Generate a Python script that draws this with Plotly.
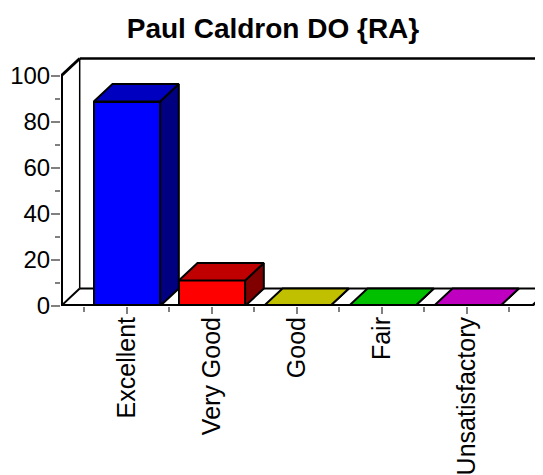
import plotly.graph_objects as go

# ---- data ----
categories = ["Excellent", "Very Good", "Good", "Fair", "Unsatisfactory"]
values = [88.89, 11.11, 0, 0, 0]
front_colors = ["#0000FF", "#FF0000", "#FFFF00", "#00FF00", "#FF00FF"]
top_colors = ["#0000C0", "#C00000", "#C0C000", "#00C000", "#C000C0"]
side_colors = ["#000080", "#800000", "#808000", "#008000", "#800080"]
y_ticks = [0, 20, 40, 60, 80, 100]
y_minor = [10, 30, 50, 70, 90]
title = "Paul Caldron DO {RA}"

# ---- geometry (data units) ----
OFF = 8          # page body margin
PX_X = 85.0      # pixels per category
PX_Y = 2.3       # pixels per value unit
bar_w = 0.78
dx = 18.7 / PX_X   # depth offset in x
dy = 17.5 / PX_Y   # depth offset in y
x0, x1 = -0.776, 4.765
W, H = 543 - OFF, 475 - OFF
ML = 61 - OFF
MB = H - (306 - OFF)
xmax = x0 + (W - ML) / PX_X
ytop = (306 - OFF) / PX_Y
ymax = 100

FONT = "Arial, Liberation Sans, sans-serif"
idx = list(range(len(categories)))

fig = go.Figure()

# front faces
fig.add_trace(go.Bar(
    x=idx, y=values, width=bar_w,
    marker=dict(color=front_colors, line=dict(color="black", width=2)),
    hoverinfo="skip", showlegend=False,
))

# top and side faces
for i, v in enumerate(values):
    l, r = i - bar_w / 2, i + bar_w / 2
    fig.add_trace(go.Scatter(
        x=[r, r, r + dx, r + dx, r], y=[0, v, v + dy, dy, 0],
        mode="lines", fill="toself", fillcolor=side_colors[i],
        line=dict(color="black", width=2), hoverinfo="skip", showlegend=False))
    fig.add_trace(go.Scatter(
        x=[l, r, r + dx, l + dx, l], y=[v, v, v + dy, v + dy, v],
        mode="lines", fill="toself", fillcolor=top_colors[i],
        line=dict(color="black", width=2), hoverinfo="skip", showlegend=False))

def seg(xa, ya, xb, yb, w, layer="below"):
    fig.add_shape(type="line", xref="x", yref="y", x0=xa, y0=ya, x1=xb, y1=yb,
                  line=dict(color="black", width=w), layer=layer)

# walls and floor
seg(x0 + dx, dy, x0 + dx, ymax + dy, 1.5)
seg(x0, ymax, x0 + dx, ymax + dy, 3)
seg(x0 + dx, ymax + dy, x1 + dx + 1, ymax + dy, 2.5)
seg(x0, 0, x0 + dx, dy, 2)
seg(x0 + dx, dy, x1 + dx, dy, 2)
seg(x1, 0, x1 + dx, dy, 2.5)
seg(x0, 0, x1, 0, 4, "above")
seg(x0, 0, x0, ymax, 4, "above")

fig.update_layout(
    template="none",
    width=W, height=H,
    margin=dict(l=ML, r=0, t=0, b=MB, pad=0),
    paper_bgcolor="white", plot_bgcolor="white",
    bargap=0,
    title=dict(text="<b>" + title + "</b>", x=(273 - OFF) / W, xref="container", xanchor="center",
               y=1 - (28 - OFF) / H, yref="container", yanchor="middle",
               font=dict(family=FONT, size=28, color="black")),
    xaxis=dict(range=[x0, xmax], tickmode="array", tickvals=idx, ticktext=categories,
               tickangle=-90, ticks="outside", ticklen=7, tickwidth=1.5, tickcolor="#808080",
               ticklabelstandoff=-7,
               minor=dict(tickmode="array", tickvals=[i - 0.5 for i in idx] + [len(idx) - 0.5],
                          ticks="outside", ticklen=5, tickwidth=1.5, tickcolor="#808080"),
               showline=False, showgrid=False, zeroline=False, automargin=False,
               tickfont=dict(family=FONT, size=25, color="black")),
    yaxis=dict(range=[0, ytop], tickmode="array", tickvals=y_ticks,
               ticks="outside", ticklen=9, tickwidth=1.5, tickcolor="#808080",
               ticklabelstandoff=-4,
               minor=dict(tickmode="array", tickvals=y_minor,
                          ticks="outside", ticklen=5, tickwidth=1.5, tickcolor="#808080"),
               showline=False, showgrid=False, zeroline=False, automargin=False,
               tickfont=dict(family=FONT, size=24, color="black")),
)

fig.write_html("out.html")
